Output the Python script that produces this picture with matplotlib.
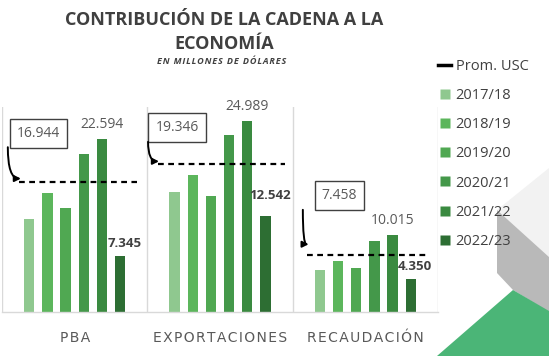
import matplotlib
matplotlib.use("Agg")
import matplotlib.pyplot as plt
from matplotlib.lines import Line2D
from matplotlib.patches import Polygon
import numpy as np

# ---------------- data ----------------
categories = ["PBA", "EXPORTACIONES", "RECAUDACIÓN"]
seasons = ["2017/18", "2018/19", "2019/20", "2020/21", "2021/22", "2022/23"]
pba = [12.2, 15.6, 13.6, 20.7, 22.594, 7.345]
exportaciones = [15.7, 17.9, 15.1, 23.1, 24.989, 12.542]
recaudacion = [5.5, 6.7, 5.8, 9.3, 10.015, 4.350]
promedio_usc = [16.944, 19.346, 7.458]
legend_prom = "Prom. USC"

series = np.array([pba, exportaciones, recaudacion])  # shape (cat, season)

# ---------------- style ----------------
colors = ["#8fc88f", "#5cb65c", "#50a852", "#44984a", "#3a8a40", "#2d6e33"]
W, H = 549, 356
fig = plt.figure(figsize=(W / 100, H / 100), dpi=100)
fig.patch.set_facecolor("white")

def px(x, y):
    return (x / W, 1 - y / H)

# decorative shapes bottom right
deco = [
    ([(497, 210), (549, 168), (549, 257)], "#f2f2f2"),
    ([(497, 210), (549, 257), (549, 312), (513, 290), (497, 273)], "#b9b9b9"),
    ([(437, 356), (513, 290), (549, 311), (549, 356)], "#4bb577"),
]
for pts, c in deco:
    fig.patches.append(Polygon([px(*p) for p in pts], closed=True, transform=fig.transFigure,
                               facecolor=c, edgecolor="none", zorder=0))

ax = fig.add_axes([2 / W, 1 - 312 / H, 436 / W, 205 / H])
ax.set_facecolor("none")
ax.set_xlim(-0.5, 2.5)
ax.set_ylim(0, 26.8)
for s in ["top", "right", "left"]:
    ax.spines[s].set_visible(False)
ax.spines["bottom"].set_color("#d9d9d9")
ax.spines["bottom"].set_linewidth(1)
ax.set_yticks([])
for xb in [-0.5, 0.5, 1.5, 2.5]:
    ax.axvline(xb, color="#d9d9d9", lw=1, zorder=1)

step = 0.125
bw = 0.07
x = np.arange(len(categories))
for j, s in enumerate(seasons):
    ax.bar(x + (j - 2.5) * step, series[:, j], width=bw, color=colors[j], zorder=2, label=s)

# average lines
line_l = [-0.38, -0.43, -0.40]
line_r = [0.43, 0.45, 0.42]
for i, v in enumerate(promedio_usc):
    ax.plot([i + line_l[i], i + line_r[i]], [v, v], color="black", lw=1.6,
            linestyle=(0, (2.6, 2.0)), zorder=3)

# boxed average labels with arrows
box_dx = [-0.25, -0.296, -0.177]
box_dy = [6.35, 4.8, 7.75]
arr_start_dx = [-0.46, -0.495, -0.43]
arr_start_dy = [4.6, 2.9, 5.9]
arr_end_dy = [0.5, 0.35, 1.4]
for i, v in enumerate(promedio_usc):
    ax.text(i + box_dx[i], v + box_dy[i], f"{v:.3f}", ha="center", va="center",
            fontsize=10, color="#595959", family=["Open Sans", "DejaVu Sans"],
            bbox=dict(boxstyle="square,pad=0.5", fc="white", ec="#404040", lw=1), zorder=4)
    ax.annotate("", xy=(i + line_l[i] + 0.01, v + arr_end_dy[i]),
                xytext=(i + arr_start_dx[i], v + arr_start_dy[i]),
                arrowprops=dict(arrowstyle="-|>", color="black", lw=1.4,
                                mutation_scale=9, shrinkA=0, shrinkB=0,
                                connectionstyle="angle3,angleA=90,angleB=0"), zorder=4)

# value labels on last two seasons
lbl6_off = [4, 10, 4]
for i in range(len(categories)):
    v5 = series[i, 4]
    ax.annotate(f"{v5:.3f}", (x[i] + 1.5 * step, v5), xytext=(0, 5), textcoords="offset points",
                ha="center", va="bottom", fontsize=10, color="#595959",
                family=["Open Sans", "DejaVu Sans"], zorder=4)
    v6 = series[i, 5]
    ax.annotate(f"{v6:.3f}", (x[i] + 2.5 * step, v6), xytext=(3, lbl6_off[i]), textcoords="offset points",
                ha="center", va="bottom", fontsize=9.5, color="#404040", fontweight="bold",
                family=["Open Sans", "DejaVu Sans"], zorder=4)

ax.set_xticks(x)
ax.set_xticklabels(["\u200a".join(c) for c in categories], fontsize=10, color="#595959",
                   family=["DejaVu Sans"])
ax.tick_params(axis="x", length=0, pad=14)

# titles
fig.text(224 / W, 1 - 20 / H, "CONTRIBUCIÓN DE LA CADENA A LA", ha="center", va="center",
         fontsize=13, fontweight="bold", color="#404040", family=["Open Sans", "DejaVu Sans"])
fig.text(224 / W, 1 - 44 / H, "ECONOMÍA", ha="center", va="center",
         fontsize=13, fontweight="bold", color="#404040", family=["Open Sans", "DejaVu Sans"])
fig.text(222 / W, 1 - 62 / H, "\u200a".join("EN MILLONES DE DÓLARES"), ha="center", va="center",
         fontsize=6.5, fontweight="bold", fontstyle="italic", color="#404040",
         family=["Open Sans", "DejaVu Sans"])

# legend
handles = [Line2D([0], [0], color="black", lw=2.5)]
handles += [Line2D([0], [0], marker="s", color="none", markerfacecolor=c, markeredgecolor="none",
                   markersize=6.5) for c in colors]
labels = [legend_prom] + seasons
leg = fig.legend(handles, labels, loc="upper left", bbox_to_anchor=(438 / W, 1 - 59 / H),
                 frameon=False, handlelength=0.9, handletextpad=0.3,
                 labelspacing=0.97, borderaxespad=0, borderpad=0,
                 prop={"family": ["Open Sans", "DejaVu Sans"], "size": 10.5})
for t in leg.get_texts():
    t.set_color("#404040")

fig.savefig("out.png", dpi=100, facecolor="white")
